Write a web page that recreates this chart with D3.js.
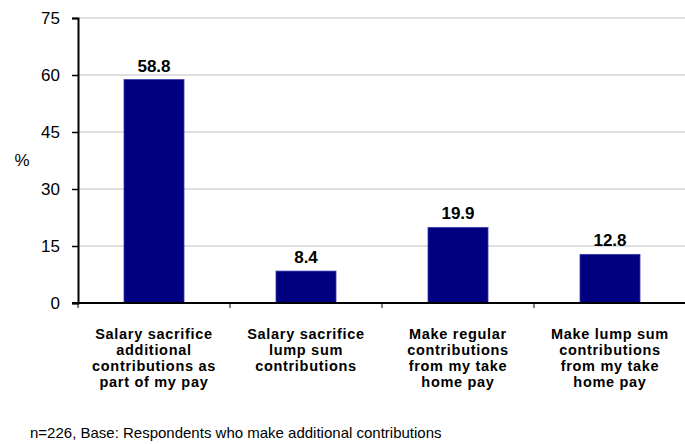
<!DOCTYPE html>
<html><head><meta charset="utf-8">
<script src="https://cdn.jsdelivr.net/npm/d3@7"></script>
<style>body{margin:0;background:#fff}svg{display:block;font-family:Arial,"Liberation Sans",sans-serif}</style>
</head><body>
<svg id="c" width="685" height="444"></svg>
<script>
const categories = [
  ["Salary sacrifice","additional","contributions as","part of my pay"],
  ["Salary sacrifice","lump sum","contributions"],
  ["Make regular","contributions","from my take","home pay"],
  ["Make lump sum","contributions","from my take","home pay"]
];
const values = [58.8, 8.4, 19.9, 12.8];
const yTicks = [0, 15, 30, 45, 60, 75];
const yLabel = "%";
const footnote = "n=226, Base: Respondents who make additional contributions";

const svg = d3.select("#c");
const L = 78, R = 686, T = 18, B = 303;
const xb = d3.scaleBand().domain(d3.range(values.length)).range([L, R]);
const y = d3.scaleLinear().domain([0, 75]).range([B, T]);
const barW = 60;

// gridlines
svg.append("g").selectAll("line").data(yTicks.filter(d => d > 0)).join("line")
  .attr("x1", L).attr("x2", R).attr("y1", d => y(d)).attr("y2", d => y(d))
  .attr("stroke", "#c0c0c0").attr("stroke-width", 1);

// bars
svg.append("g").selectAll("rect").data(values).join("rect")
  .attr("x", (d, i) => xb(i) + xb.bandwidth() / 2 - barW / 2)
  .attr("width", barW)
  .attr("y", d => y(d)).attr("height", d => B - y(d))
  .attr("fill", "#000080").attr("stroke", "#3a3ab0").attr("stroke-width", 0.8);

// value labels
svg.append("g").selectAll("text").data(values).join("text")
  .attr("x", (d, i) => xb(i) + xb.bandwidth() / 2)
  .attr("y", d => y(d) - 8)
  .attr("text-anchor", "middle").attr("font-weight", "bold").attr("font-size", 17)
  .text(d => d.toFixed(1));

// y axis
const ya = svg.append("g").attr("transform", `translate(${L},0)`)
  .call(d3.axisLeft(y).tickValues(yTicks).tickSize(6).tickPadding(12));
ya.select(".domain").attr("stroke", "#000").attr("stroke-width", 2);
ya.selectAll(".tick line").attr("stroke", "#000").attr("stroke-width", 1.5);
ya.selectAll(".tick text").attr("font-size", 17).attr("fill", "#000").attr("font-family", "Arial, 'Liberation Sans', sans-serif");

// x axis line and ticks
svg.append("line").attr("x1", L - 6).attr("x2", R).attr("y1", B).attr("y2", B)
  .attr("stroke", "#000").attr("stroke-width", 2);
svg.append("g").selectAll("line").data(d3.range(0, values.length + 1)).join("line")
  .attr("x1", i => L + xb.step() * i).attr("x2", i => L + xb.step() * i)
  .attr("y1", B).attr("y2", B + 5).attr("stroke", "#000").attr("stroke-width", 1);

// category labels
const cl = svg.append("g").selectAll("text").data(categories).join("text")
  .attr("text-anchor", "middle").attr("font-weight", "bold").attr("font-size", 14.5)
  .attr("letter-spacing", "0.7px");
cl.each(function(lines, i) {
  d3.select(this).selectAll("tspan").data(lines).join("tspan")
    .attr("x", xb(i) + xb.bandwidth() / 2)
    .attr("y", (d, j) => 339 + j * 16)
    .text(d => d);
});

// y label
svg.append("text").attr("x", 22).attr("y", 166).attr("text-anchor", "middle")
  .attr("font-size", 17).text(yLabel);

// footnote
svg.append("text").attr("x", 30).attr("y", 438).attr("font-size", 15)
  .text(footnote);
</script>
</body></html>
